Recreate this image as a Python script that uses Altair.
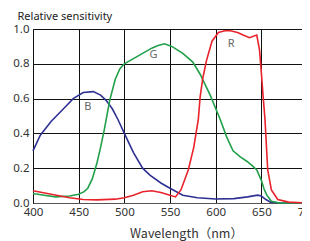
import altair as alt
import pandas as pd

b_nm = [400, 408, 420, 435, 444, 455, 466, 474, 480, 487, 493, 500, 510, 520, 528, 540, 550, 564, 580, 600, 620, 635, 646, 650, 655, 660, 670, 700]
b_val = [0.30, 0.39, 0.47, 0.55, 0.60, 0.635, 0.64, 0.62, 0.59, 0.54, 0.48, 0.40, 0.29, 0.20, 0.16, 0.115, 0.085, 0.045, 0.03, 0.023, 0.025, 0.035, 0.045, 0.04, 0.02, 0.005, 0.0, 0.0]

g_nm = [400, 412, 425, 440, 450, 456, 460, 465, 470, 474, 478, 484, 490, 495, 500, 510, 520, 530, 537, 544, 552, 564, 575, 583, 594, 605, 612, 619, 627, 634, 640, 645, 650, 653, 656, 661, 670, 700]
g_val = [0.055, 0.045, 0.035, 0.04, 0.05, 0.065, 0.085, 0.14, 0.23, 0.32, 0.42, 0.59, 0.71, 0.77, 0.80, 0.83, 0.86, 0.89, 0.905, 0.915, 0.90, 0.86, 0.81, 0.74, 0.62, 0.48, 0.38, 0.30, 0.265, 0.24, 0.215, 0.19, 0.13, 0.08, 0.045, 0.01, 0.0, 0.0]

r_nm = [400, 420, 440, 455, 470, 490, 500, 510, 520, 530, 540, 550, 556, 562, 570, 576, 581, 583, 586, 590, 596, 603, 610, 616, 624, 630, 637, 645, 648, 650, 652, 654, 657, 661, 668, 680, 700]
r_val = [0.07, 0.05, 0.03, 0.02, 0.018, 0.022, 0.03, 0.045, 0.065, 0.07, 0.06, 0.045, 0.035, 0.075, 0.19, 0.32, 0.48, 0.61, 0.72, 0.82, 0.93, 0.98, 0.99, 0.99, 0.98, 0.965, 0.95, 0.965, 0.88, 0.75, 0.61, 0.48, 0.19, 0.075, 0.02, 0.005, 0.0]

labels = ["B", "G", "R"]
label_nm = [460, 532, 617]
label_val = [0.55, 0.85, 0.914]

colors = ["#2e3192", "#22a04a", "#e8232b"]

rows = []
for name, xs, ys in [("B", b_nm, b_val), ("G", g_nm, g_val), ("R", r_nm, r_val)]:
    for i, (x, y) in enumerate(zip(xs, ys)):
        rows.append({"ch": name, "nm": x, "v": y, "o": i})
df = pd.DataFrame(rows)
lab = pd.DataFrame({"t": labels, "nm": label_nm, "v": label_val})

xs = alt.X("nm:Q", scale=alt.Scale(domain=[400, 700], nice=False),
           axis=alt.Axis(values=[400, 450, 500, 550, 600, 650, 700], tickCount=20, title="Wavelength（nm）",
                         grid=True, gridColor="#111", gridOpacity=1, tickSize=0, labelPadding=3,
                         labelFlush=False, labelOverlap=False, labelBound=False,
                         labelFontSize=11.5, labelColor="#333", domainColor="#555",
                         titleFontSize=12.5, titleFontWeight="normal", titleColor="#333",
                         titleBaseline="alphabetic", titleY=34, titleX=153,
                         titleFont="Noto Sans CJK JP"))
ys = alt.Y("v:Q", scale=alt.Scale(domain=[0, 1], nice=False),
           axis=alt.Axis(values=[0, 0.2, 0.4, 0.6, 0.8, 1.0], tickCount=20, format=".1f", title="Relative sensitivity",
                         grid=True, gridColor="#111", gridOpacity=1, tickSize=0, labelPadding=4,
                         labelFlush=False, labelOverlap=False, labelBound=False,
                         labelFontSize=11.5, labelColor="#333", domainColor="#111",
                         titleAngle=0, titleAlign="left", titleBaseline="alphabetic",
                         titleX=-16, titleY=-10, titleFontSize=11, titleFontWeight="normal",
                         titleColor="#222"))

lines = alt.Chart(df).mark_line(strokeWidth=1.6).encode(
    x=xs, y=ys, order="o:Q",
    color=alt.Color("ch:N", scale=alt.Scale(domain=labels, range=colors), legend=None),
)
text = alt.Chart(lab).mark_text(fontSize=11, color="#666", font="Noto Sans").encode(
    x="nm:Q", y="v:Q", text="t:N")

chart = (lines + text).properties(
    width=274, height=174,
    autosize=alt.AutoSizeParams(type="none"),
    padding={"left": 25, "top": 21, "right": -5, "bottom": 38},
).configure_view(stroke="#777", strokeWidth=1).configure(font="Noto Sans")

chart.save("out.html", embed_options={"renderer": "svg", "actions": False})
